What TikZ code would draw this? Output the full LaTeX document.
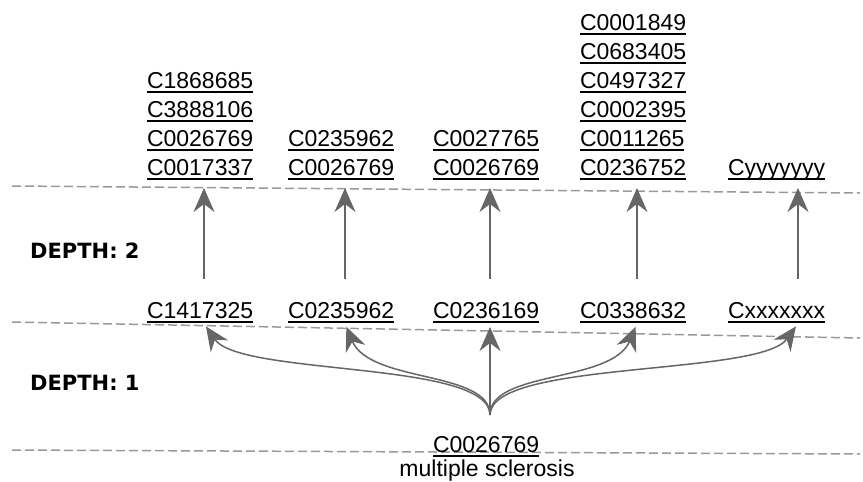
\documentclass[tikz,border=0pt]{standalone}
\usepackage{fontspec}
\setmainfont{Liberation Sans}
\newfontfamily\depthfont{DejaVu Sans}
\usepackage{tikz}
\usetikzlibrary{arrows.meta,positioning}
\definecolor{edgegray}{HTML}{666666}
\definecolor{linegray}{HTML}{999999}
\newcommand{\cui}[1]{\leavevmode\setbox0=\hbox{#1}\rlap{\rule[-4.5pt]{\wd0}{2pt}}\box0}

\begin{document}
\begin{tikzpicture}[x=1pt,y=-1pt,
  cui/.style={inner sep=0pt, text width=114pt, align=left, anchor=south, font=\fontsize{23}{29}\selectfont},
  depth/.style={anchor=base west, inner sep=0pt, font=\depthfont\bfseries\fontsize{21}{25}\selectfont},
  level/.style={linegray, line width=1.5pt, dash pattern=on 9pt off 4pt},
  arrow/.style={edgegray, line width=1.5pt, -{Stealth[length=24pt,width=21pt,inset=8pt]}}
]
\useasboundingbox (0,0) rectangle (863,482);

\draw[level] (12,186) -- (860,193);
\draw[level] (12,322) -- (860,338);
\draw[level] (12,450) -- (860,454);

\node[depth] (d2) at (30,258) {DEPTH: 2};
\node[depth] (d1) at (30,390) {DEPTH: 1};

\node[cui] (t1) at (204,180) {\cui{C1868685}\\\cui{C3888106}\\\cui{C0026769}\\\cui{C0017337}};
\node[cui] (t2) at (345,180) {\cui{C0235962}\\\cui{C0026769}};
\node[cui] (t3) at (490,180) {\cui{C0027765}\\\cui{C0026769}};
\node[cui] (t4) at (637,180) {\cui{C0001849}\\\cui{C0683405}\\\cui{C0497327}\\\cui{C0002395}\\\cui{C0011265}\\\cui{C0236752}};
\node[cui, text width=140pt] (t5) at (798,180) {\cui{Cyyyyyyy}};

\node[cui] (b1) at (204,323.5) {\cui{C1417325}};
\node[cui] (b2) at (345,323.5) {\cui{C0235962}};
\node[cui] (b3) at (490,323.5) {\cui{C0236169}};
\node[cui] (b4) at (637,323.5) {\cui{C0338632}};
\node[cui, text width=140pt] (b5) at (798,323.5) {\cui{Cxxxxxxx}};

\node[cui] (root) at (490,457) {\cui{C0026769}};
\node[anchor=base, inner sep=0pt, font=\fontsize{23}{29}\selectfont] (rootname) at (487,476.5) {multiple sclerosis};
\coordinate (fork) at (490,415);

\draw[arrow, shorten <=24pt, shorten >=8pt] (b1) -- (t1);
\draw[arrow, shorten <=24pt, shorten >=8pt] (b2) -- (t2);
\draw[arrow, shorten <=24pt, shorten >=8pt] (b3) -- (t3);
\draw[arrow, shorten <=24pt, shorten >=8pt] (b4) -- (t4);
\draw[arrow, shorten <=24pt, shorten >=8pt] (b5) -- (t5);

\draw[arrow, shorten >=3.5pt] (fork) .. controls +(0,-55) and +(36,53) .. (b1.south);
\draw[arrow, shorten >=3.5pt] (fork) .. controls +(0,-45) and +(25,60) .. (b2.south);
\draw[arrow, shorten >=3.5pt] (fork) -- (b3.south);
\draw[arrow, shorten >=3.5pt] (fork) .. controls +(0,-45) and +(-25,60) .. (b4.south);
\draw[arrow, shorten >=3.5pt] (fork) .. controls +(0,-55) and +(-38,53) .. (b5.south);
\end{tikzpicture}
\end{document}
